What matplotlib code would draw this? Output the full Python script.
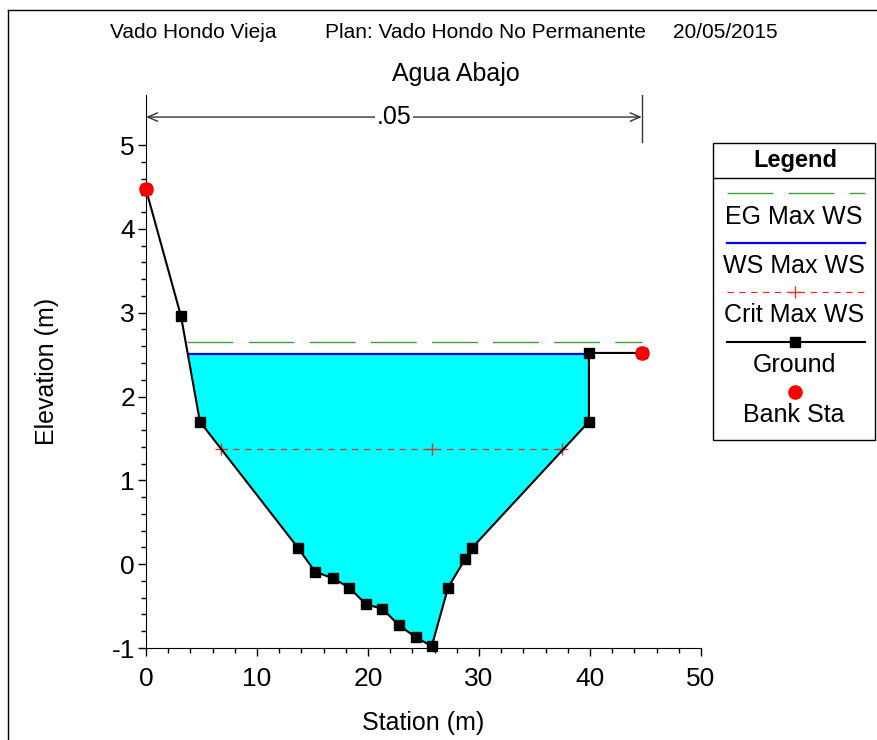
import numpy as np
import matplotlib.pyplot as plt
from matplotlib.lines import Line2D
from matplotlib.patches import Rectangle
from matplotlib.ticker import MultipleLocator, FixedLocator

plt.rcParams['font.family'] = ['Liberation Sans', 'DejaVu Sans']
plt.rcParams['axes.unicode_minus'] = False

# cross section: station (m) and ground elevation (m)
station = [0.0, 3.15, 4.86, 13.72, 15.23, 16.87, 18.32, 19.82, 21.29, 22.79,
           24.30, 25.74, 27.21, 28.74, 29.34, 39.9, 39.9, 44.66]
ground = [4.47, 2.96, 1.70, 0.19, -0.09, -0.17, -0.28, -0.48, -0.53, -0.73,
          -0.87, -0.98, -0.28, 0.06, 0.19, 1.70, 2.52, 2.52]

bank_sta = [0.0, 44.66]
bank_elev = [4.47, 2.52]

ws_elev = 2.51          # WS Max WS
ws_sta = [3.76, 39.9]
eg_elev = 2.65          # EG Max WS
eg_sta = [3.70, 44.66]
crit_elev = 1.37        # Crit Max WS
crit_sta = [6.79, 25.77, 37.5]

mann_n = '.05'

W, H = 877, 740
fig = plt.figure(figsize=(W / 100, H / 100), dpi=100)
ax = fig.add_axes([146 / W, 92 / H, 555 / W, 553 / H])

sta = np.array(station)
elev = np.array(ground)
ax.fill_between(sta, elev, ws_elev, where=elev <= ws_elev, interpolate=True,
                color='#00FFFF', lw=0, zorder=1)

ax.plot(eg_sta, [eg_elev] * 2, color='#3CA03C', lw=1, dashes=(33, 11), zorder=2)
ax.plot(ws_sta, [ws_elev] * 2, color='#0000FF', lw=1.6, zorder=3)
ax.plot(crit_sta, [crit_elev] * len(crit_sta), color='#E03030', lw=0.9,
        dashes=(5, 4.5), marker='+', ms=8, mew=1, zorder=3)
ax.plot(station, ground, color='k', lw=1.5, marker='s', ms=7.5, zorder=4, clip_on=False)
ax.plot(bank_sta, bank_elev, 'o', color='#FF0000', ms=9.5, zorder=5, clip_on=False)

# Manning's n dimension line between bank stations
dim_y = 5.334
ax.annotate('', xy=(bank_sta[0], dim_y), xytext=(bank_sta[1], dim_y),
            arrowprops=dict(arrowstyle='<->,head_length=0.7,head_width=0.3',
                            color='#333333', lw=1, shrinkA=0, shrinkB=0))
ax.plot([bank_sta[1]] * 2, [5.04, 5.6], color='#333333', lw=1)
ax.text((bank_sta[0] + bank_sta[1]) / 2, dim_y, mann_n, ha='center', va='center',
        fontsize=18, bbox=dict(facecolor='white', edgecolor='none', pad=1))

ax.set_xlim(0, 50)
ax.set_ylim(-1, 5.597)
ax.set_xticks(range(0, 51, 10))
ax.xaxis.set_minor_locator(MultipleLocator(2))
ax.set_yticks(range(-1, 6))
ax.yaxis.set_minor_locator(FixedLocator(np.arange(-1, 5.01, 0.2)))
ax.tick_params(which='major', direction='out', length=6, width=1, labelsize=19)
ax.tick_params(axis='x', which='major', pad=8)
ax.tick_params(axis='y', which='major', pad=2)
ax.tick_params(which='minor', direction='out', length=3.6, width=1)
for s in ['top', 'right']:
    ax.spines[s].set_visible(False)
ax.set_xlabel('Station (m)', fontsize=18, labelpad=14)
ax.set_ylabel('Elevation (m)', fontsize=18, labelpad=38)

# page frame
tf = fig.transFigure
fig.add_artist(Line2D([8 / W, 8 / W], [0, 1 - 10 / H], transform=tf, color='k', lw=1))
fig.add_artist(Line2D([8 / W, 1], [1 - 10 / H, 1 - 10 / H], transform=tf, color='k', lw=1))

fig.text(110 / W, 1 - 33 / H, 'Vado Hondo Vieja', fontsize=15, va='center')
fig.text(325 / W, 1 - 33 / H, 'Plan: Vado Hondo No Permanente', fontsize=15, va='center')
fig.text(673 / W, 1 - 33 / H, '20/05/2015', fontsize=15, va='center')
fig.text(456 / W, 1 - 74 / H, 'Agua Abajo', fontsize=18, ha='center', va='center')

# legend box
lx0, lx1, ly0, ly1 = 713, 875, 143, 440
fig.add_artist(Rectangle((lx0 / W, 1 - ly1 / H), (lx1 - lx0) / W, (ly1 - ly0) / H,
                         transform=tf, fill=False, edgecolor='k', lw=1))
fig.add_artist(Line2D([lx0 / W, lx1 / W], [1 - 178 / H] * 2, transform=tf, color='k', lw=1))
fig.text(795 / W, 1 - 160 / H, 'Legend', fontsize=17, fontweight='bold', ha='center', va='center')

sx = [727 / W, 865 / W]
cx = 795 / W
fig.add_artist(Line2D(sx, [1 - 193 / H] * 2, transform=tf, color='#3CA03C', lw=1, dashes=(33, 11)))
fig.add_artist(Line2D(sx, [1 - 243 / H] * 2, transform=tf, color='#0000FF', lw=1.6))
fig.add_artist(Line2D(sx, [1 - 292 / H] * 2, transform=tf, color='#E03030', lw=0.9, dashes=(5, 4.5)))
fig.add_artist(Line2D([cx], [1 - 292 / H], transform=tf, color='#E03030', marker='+', ms=8, mew=1))
fig.add_artist(Line2D(sx, [1 - 342 / H] * 2, transform=tf, color='k', lw=1.5))
fig.add_artist(Line2D([cx], [1 - 342 / H], transform=tf, color='k', marker='s', ms=7.5))
fig.add_artist(Line2D([cx], [1 - 392 / H], transform=tf, color='#FF0000', marker='o', ms=9.5))

labels = ['EG Max WS', 'WS Max WS', 'Crit Max WS', 'Ground', 'Bank Sta']
label_y = [217, 266, 315, 365, 415]
for txt, y in zip(labels, label_y):
    fig.text(794 / W, 1 - y / H, txt, fontsize=18, ha='center', va='center')

fig.savefig('out.png', dpi=100)
